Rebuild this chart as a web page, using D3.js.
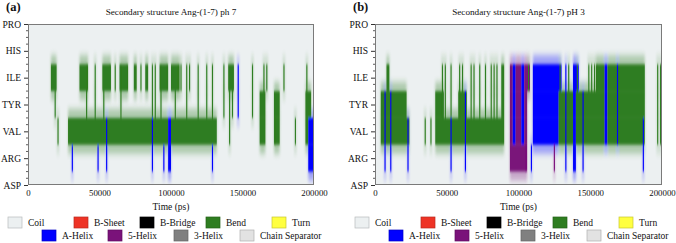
<!DOCTYPE html>
<html>
<head>
<meta charset="utf-8">
<script src="https://cdn.jsdelivr.net/npm/d3@7"></script>
<style>
  body { margin: 0; background: #fff; }
  svg text { font-family: "Liberation Serif", "Times New Roman", "DejaVu Serif", serif; fill: #111; }
</style>
</head>
<body>
<div id="chart"></div>
<script>
// residues bottom -> top
const residues = ["ASP", "ARG", "VAL", "TYR", "ILE", "HIS", "PRO"];
const timeTicks = [0, 50000, 100000, 150000, 200000];
const binPs = 2000; // each char = 2000 ps, 100 bins

// DSSP per residue (same order as residues), groups of 10 bins
// . coil  S bend  H A-helix  I 5-helix ; lower case = state only in a short part of the bin
const ph7 = [
  "..........|..........|..........|..........|..........|..........|..........|..........|..........|..........", // ASP
  "..........|.....h....|....h..h..|..........|...h...h.H|..........|....h.....|..........|..........|........HH", // ARG
  "..........|s...SSSSSS|SSSSSSShSS|SSSSSSSSSS|SSShSSSSSH|SSSSSSSSSS|SSSSSS....|s.........|.SS...sS..|...s...SHH", // VAL
  ".........s|..........|s..s..s...|..s.......|...ss.s...|.s...s...s|..s.s...s.|ss.h....s.|.SS...SS..|.......SS.", // TYR
  "........SS|........SS|s..s..SSs.|s.sSs..S.s|.S.ss.sSs.|SSss.ss..s|..s.s...s.|SS.h....s.|..ss.....s|.......s..", // ILE
  "..........|..........|..........|..........|..........|..........|..........|..........|..........|..........", // HIS
  "..........|..........|..........|..........|..........|..........|..........|..........|..........|.........."  // PRO
];

const ph3 = [
  "..........|..........|..........|..........|..........|..........|..........|..........|..........|..........", // ASP
  "...h.h....|.h........|......h...|.h........|.......III|IIi.h.....|..i...h..H|..h.......|..........|...h......", // ARG
  "..ShShSSSS|Sh.....s.s|.SSSSShSSS|ShSSSSSSSS|SSSSS..IHI|IHI..HHHHH|HHHHSShSSH|SShSSSSSSS|HSSShSSSSS|SSSh....ss", // VAL
  "..ShShSSSS|S.........|.SSss.s..s|Sh.ss.s.s.|sss.S..IHI|IHI..HHHHH|HHHHSShSSH|SShSSSSSSS|HSSShSSSSS|SSSS....ss", // TYR
  "....S.....|..........|...ss.s..s|s..ss.s.s.|sss.S..IHI|IHIs.HHHHH|HHHHs.hs.H|s...ssssSS|HSSShSSSSS|SSSS....ss", // ILE
  "..........|..........|..........|..........|..........|..........|..........|..........|..........|..........", // HIS
  "..........|..........|..........|..........|..........|..........|..........|..........|..........|.........."  // PRO
];

const legendRow1 = ["Coil", "B-Sheet", "B-Bridge", "Bend", "Turn"];
const legendRow2 = ["A-Helix", "5-Helix", "3-Helix", "Chain Separator"];

const colors = {
  "Coil": "#ecf0f1", "B-Sheet": "#ee3325", "B-Bridge": "#000000", "Bend": "#2e7d20",
  "Turn": "#ffff40", "A-Helix": "#0000ff", "5-Helix": "#7a127a", "3-Helix": "#808080",
  "Chain Separator": "#e2e2e2"
};
const codes = { S: "Bend", H: "A-Helix", I: "5-Helix", G: "3-Helix", E: "B-Sheet", B: "B-Bridge", T: "Turn" };

const width = 676, height = 243;
const svg = d3.select("#chart").append("svg")
  .attr("width", width).attr("height", height);

const defs = svg.append("defs");
defs.append("filter")
  .attr("id", "core").attr("filterUnits", "userSpaceOnUse")
  .attr("x", 0).attr("y", 0).attr("width", width).attr("height", height)
  .append("feGaussianBlur").attr("stdDeviation", "0.5 1.5");
defs.append("filter")
  .attr("id", "halo").attr("filterUnits", "userSpaceOnUse")
  .attr("x", 0).attr("y", 0).attr("width", width).attr("height", height)
  .append("feGaussianBlur").attr("stdDeviation", "0.8 3");

const isUp = c => c !== "." && c === c.toUpperCase();

// split a row into full-bin runs and short stripes
function parseRow(str) {
  const s = str.replace(/\|/g, "").padEnd(100, ".");
  const base = s.split("").map((c, i) => {
    if (c === "." || isUp(c)) return c;
    if (isUp(s[i - 1] || ".")) return s[i - 1];
    if (isUp(s[i + 1] || ".")) return s[i + 1];
    return ".";
  });
  const full = [];
  let i = 0;
  while (i < base.length) {
    let j = i;
    while (j < base.length && base[j] === base[i]) j++;
    if (base[i] !== ".") full.push({ c: base[i], a: i, b: j });
    i = j;
  }
  const thin = [];
  s.split("").forEach((c, k) => { if (c !== "." && !isUp(c)) thin.push({ c: c.toUpperCase(), a: k }); });
  return { full, thin };
}

function drawPanel(rows, title, tag, left, right, id) {
  const top = 24, bottom = 185;
  const x = d3.scaleLinear().domain([0, 200000]).range([left, right]);
  const y = d3.scalePoint().domain(residues).range([bottom, top]);
  const step = y.step();
  const bw = x(binPs) - x(0);

  svg.append("clipPath").attr("id", "clip" + id)
    .append("rect").attr("x", left).attr("y", top)
    .attr("width", right - left).attr("height", bottom - top);

  const plot = svg.append("g").attr("clip-path", `url(#clip${id})`);
  plot.append("rect")
    .attr("x", left).attr("y", top).attr("width", right - left).attr("height", bottom - top)
    .attr("fill", colors["Coil"]);

  const parsed = rows.map(parseRow);

  [["halo", 9, 0.33], ["core", 0, 1]].forEach(([f, grow, op]) => {
    const layer = plot.append("g").attr("filter", `url(#${f})`).attr("opacity", op);
    residues.forEach((r, k) => {
      const g = layer.append("g");
      g.selectAll("rect.full")
        .data(parsed[k].full)
        .join("rect").attr("class", "full")
        .attr("x", d => x(d.a * binPs))
        .attr("width", d => x(d.b * binPs) - x(d.a * binPs))
        .attr("y", y(r) - step / 2 - grow)
        .attr("height", step + 2 * grow)
        .attr("fill", d => colors[codes[d.c]]);
      g.selectAll("rect.thin")
        .data(parsed[k].thin)
        .join("rect").attr("class", "thin")
        .attr("x", d => x(d.a * binPs) + bw * 0.3)
        .attr("width", bw * 0.4)
        .attr("y", y(r) - step / 2 - grow)
        .attr("height", step + 2 * grow)
        .attr("fill", d => colors[codes[d.c]]);
    });
  });

  // frame
  svg.append("rect")
    .attr("x", left + 0.5).attr("y", top + 0.5)
    .attr("width", right - left - 1).attr("height", bottom - top - 1)
    .attr("fill", "none").attr("stroke", "#7a7a7a");

  // y axis
  const ya = svg.append("g")
    .attr("transform", `translate(${left},0)`)
    .call(d3.axisLeft(y).tickSize(4).tickPadding(3));
  ya.select(".domain").remove();
  ya.attr("font-family", null).attr("font-size", 9.5);
  ya.selectAll("line").attr("stroke", "#333");

  const minor = d3.scaleLinear().domain([0, 24]).range([bottom, top]);
  svg.append("g").selectAll("line")
    .data(d3.range(25).filter(k => k % 4))
    .join("line")
    .attr("x1", left - 2).attr("x2", left)
    .attr("y1", d => minor(d)).attr("y2", d => minor(d))
    .attr("stroke", "#333").attr("stroke-width", 0.8);

  // x axis labels
  const xa = svg.append("g")
    .attr("transform", `translate(0,${bottom})`)
    .call(d3.axisBottom(x).tickValues(timeTicks).tickFormat(d3.format("d")).tickSize(0).tickPadding(5));
  xa.select(".domain").remove();
  xa.attr("font-family", null).attr("font-size", 8.8);

  svg.append("text")
    .attr("x", (left + right) / 2).attr("y", 210)
    .attr("text-anchor", "middle").attr("font-size", 9.5)
    .text("Time (ps)");

  svg.append("text")
    .attr("x", (left + right) / 2).attr("y", 14.5)
    .attr("text-anchor", "middle").attr("font-size", 9.2)
    .text(title);

  svg.append("text")
    .attr("x", left - 22).attr("y", 10.5)
    .attr("font-size", 12.5).attr("font-weight", "bold")
    .text(tag);

  // legend
  const off = left - 28;
  [[legendRow1, 8, 222.5], [legendRow2, 42, 235.5]].forEach(([names, x0, cy]) => {
    const items = svg.append("g").selectAll("g")
      .data(names)
      .join("g")
      .attr("transform", (d, i) => `translate(${off + x0 + i * 66},${cy})`);
    items.append("rect")
      .attr("x", 0).attr("y", -5.5).attr("width", 14).attr("height", 11)
      .attr("fill", d => colors[d])
      .attr("stroke", d => d3.color(colors[d]).darker(0.7))
      .attr("stroke-width", 0.7);
    items.append("text")
      .attr("x", 20).attr("y", 3.3)
      .attr("font-size", 9.5)
      .text(d => d);
  });
}

drawPanel(ph7, "Secondary structure Ang-(1-7) ph 7", "(a)", 28, 314, "a");
drawPanel(ph3, "Secondary structure Ang-(1-7) pH 3", "(b)", 375, 662, "b");
</script>
</body>
</html>
